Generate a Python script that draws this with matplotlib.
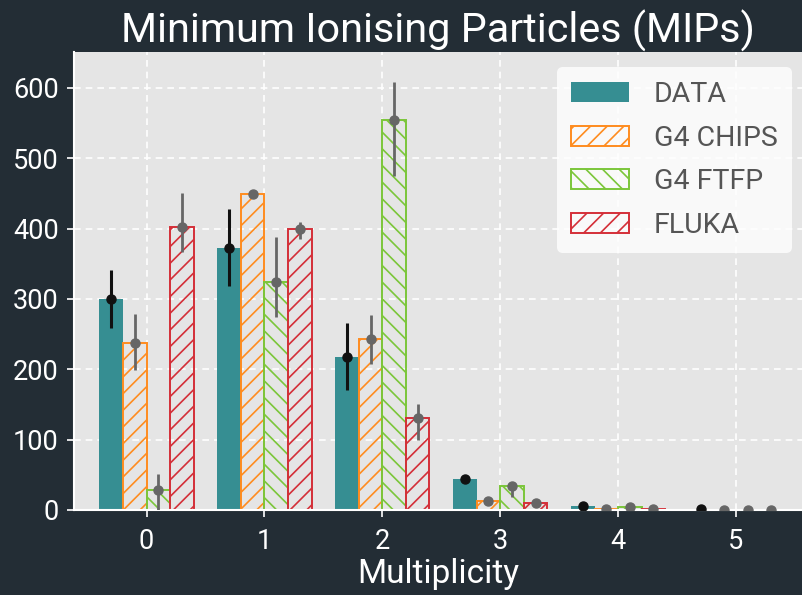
import matplotlib
matplotlib.use("Agg")
import matplotlib.pyplot as plt
import numpy as np

# Multiplicity bins
multiplicity = [0, 1, 2, 3, 4, 5]

# Counts per bin for the measurement and each simulation
data_counts = [300, 373, 218, 44, 5, 1]
chips_counts = [237, 449, 243, 13, 1, 0.5]
ftfp_counts = [28, 324, 555, 34, 4, 0.5]
fluka_counts = [402, 400, 131, 10, 1, 0.5]

# Asymmetric uncertainties (lower, upper)
data_err_lo = [41, 55, 48, 0, 0, 0]
data_err_hi = [41, 55, 48, 0, 0, 0]
chips_err_lo = [38, 3, 35, 2, 0, 0]
chips_err_hi = [41, 3, 34, 2, 0, 0]
ftfp_err_lo = [28, 50, 80, 16, 0, 0]
ftfp_err_hi = [23, 64, 54, 3, 0, 0]
fluka_err_lo = [35, 15, 31, 3, 0, 0]
fluka_err_hi = [49, 9, 20, 3, 0, 0]

labels = ["DATA", "G4 CHIPS", "G4 FTFP", "FLUKA"]

BG = "#232d35"
AX_BG = "#e5e5e5"
TEAL = "#368e92"
ORANGE = "#ff8c1f"
GREEN = "#7bc63a"
RED = "#d42f38"
GREY = "#666666"

plt.rcParams["font.family"] = ["Roboto", "DejaVu Sans"]
plt.rcParams["hatch.linewidth"] = 1.2

fig = plt.figure(figsize=(8.02, 5.95), dpi=100, facecolor=BG)
ax = fig.add_axes([0.0923, 0.1429, 0.9077, 0.7697])
ax.set_facecolor(AX_BG)

x = np.array(multiplicity, dtype=float)
w = 0.2
offsets = [-0.3, -0.1, 0.1, 0.3]

ax.grid(True, color="white", linestyle=(0, (4, 3)), linewidth=1.2)
ax.set_axisbelow(True)

ax.bar(x + offsets[0], data_counts, w, color=TEAL, label=labels[0], zorder=2)
ax.bar(x + offsets[1], chips_counts, w, facecolor="none", edgecolor=ORANGE,
       hatch="//", linewidth=1.4, label=labels[1], zorder=2)
ax.bar(x + offsets[2], ftfp_counts, w, facecolor="none", edgecolor=GREEN,
       hatch="\\\\", linewidth=1.4, label=labels[2], zorder=2)
ax.bar(x + offsets[3], fluka_counts, w, facecolor="none", edgecolor=RED,
       hatch="//", linewidth=1.4, label=labels[3], zorder=2)

ax.errorbar(x + offsets[0], data_counts, yerr=[data_err_lo, data_err_hi],
            fmt="o", color="#111111", ms=6.5, elinewidth=2.2, capsize=0, zorder=4)
for off, vals, lo, hi in [
    (offsets[1], chips_counts, chips_err_lo, chips_err_hi),
    (offsets[2], ftfp_counts, ftfp_err_lo, ftfp_err_hi),
    (offsets[3], fluka_counts, fluka_err_lo, fluka_err_hi),
]:
    ax.errorbar(x + off, vals, yerr=[lo, hi], fmt="o", color=GREY, ms=6.5,
                elinewidth=2.0, capsize=0, zorder=4)

ax.set_xlim(-0.615, 5.56)
ax.set_ylim(0, 651)
ax.set_xticks(multiplicity)
ax.set_yticks([0, 100, 200, 300, 400, 500, 600])

for side in ["top", "right"]:
    ax.spines[side].set_visible(False)
for side in ["left", "bottom"]:
    ax.spines[side].set_color("white")
    ax.spines[side].set_linewidth(1.5)

ax.tick_params(colors="white", labelsize=19.5, length=5, width=1.2)
ax.tick_params(axis="y", pad=6)
ax.tick_params(axis="x", pad=8)

ax.set_xlabel("Multiplicity", color="white", fontsize=24, labelpad=2)
ax.set_title("Minimum Ionising Particles (MIPs)", color="white", fontsize=29.8, pad=7)

leg = ax.legend(loc="upper right", fontsize=20.5, frameon=True, facecolor="white",
                framealpha=0.8, edgecolor="none", handlelength=2.05, handleheight=0.7,
                labelspacing=0.58, handletextpad=0.85, borderpad=0.5,
                borderaxespad=0, bbox_to_anchor=(0.986, 0.967))
for t in leg.get_texts():
    t.set_color("#555555")

fig.savefig("out.png", dpi=100, facecolor=BG)
